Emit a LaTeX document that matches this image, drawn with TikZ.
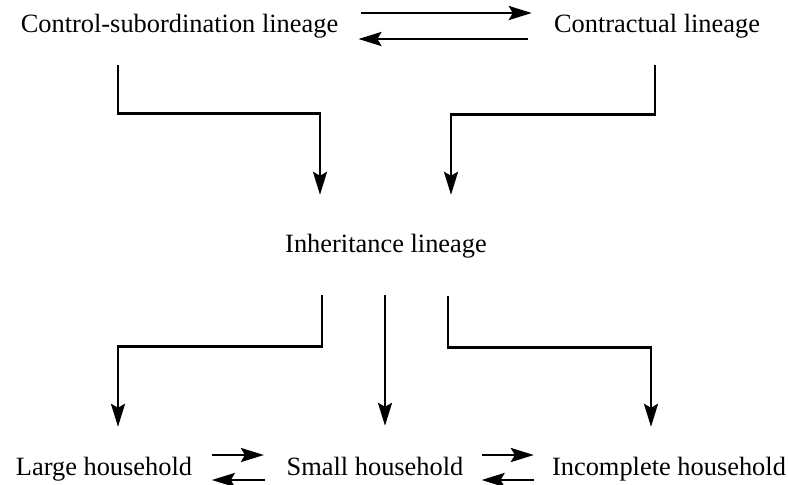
\documentclass[tikz,border=0pt]{standalone}
\usepackage{fontspec}
\setmainfont{Liberation Serif}
\usetikzlibrary{arrows.meta,calc}

\tikzset{
  lbl/.style={inner sep=0pt, text height=18pt, text depth=6pt,
              font=\fontsize{26.4}{30}\selectfont},
  conn/.style={line width=2.8pt, -{Stealth[length=23pt,width=14pt,inset=4pt]}},
}

\begin{document}
\begin{tikzpicture}[x=1pt,y=-1pt]
  \useasboundingbox (0,0) rectangle (788,485);

  % labels
  \node[lbl] (cs)  at (179.5,26) {Control-subordination lineage};
  \node[lbl] (ct)  at (657,26)   {Contractual lineage};
  \node[lbl] (inh) at (386,246)  {Inheritance lineage};
  \node[lbl] (lg)  at (104,469)  {Large household};
  \node[lbl] (sm)  at (375,469)  {Small household};
  \node[lbl] (inc) at (669,469)  {Incomplete household};

  % two-way link between the upper lineages
  \draw[conn] ($(cs.east)+(23,-13)$) -- ($(ct.west)+(-22,-13)$);
  \draw[conn] ($(ct.west)+(-26,13)$) -- ($(cs.east)+(20,13)$);

  % upper lineages feed the inheritance lineage
  \draw[conn] ($(cs.south)+(-61.5,27)$) |- ($(inh.north)+(-66,-120)$)
              -- ($(inh.north)+(-66,-39)$);
  \draw[conn] ($(ct.south)+(-2,27)$) |- ($(inh.north)+(65,-119)$)
              -- ($(inh.north)+(65,-39)$);

  % inheritance lineage branches into the household types
  \draw[conn] ($(inh.south)+(-64,37)$) |- ($(lg.north)+(14,-110)$)
              -- ($(lg.north)+(14,-30)$);
  \draw[conn] ($(inh.south)+(-1,37)$) -- ($(sm.north)+(10,-31)$);
  \draw[conn] ($(inh.south)+(62,38)$) |- ($(inc.north)+(-18,-109)$)
              -- ($(inc.north)+(-18,-30)$);

  % two-way links between household types
  \draw[conn] ($(lg.east)+(19.5,-14)$) -- ($(sm.west)+(-22.5,-14)$);
  \draw[conn] ($(sm.west)+(-21.5,11)$) -- ($(lg.east)+(19.5,11)$);
  \draw[conn] ($(sm.east)+(18,-14)$) -- ($(inc.west)+(-18,-14)$);
  \draw[conn] ($(inc.west)+(-18,11)$) -- ($(sm.east)+(18,11)$);
\end{tikzpicture}
\end{document}
